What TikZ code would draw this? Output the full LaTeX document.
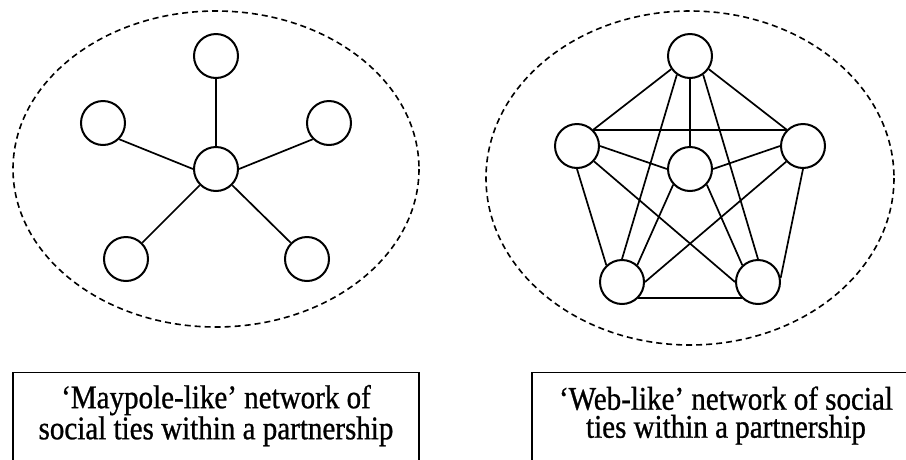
\documentclass[tikz,border=0pt]{standalone}
\usepackage{fontspec}
\setmainfont[FakeStretch=0.88, FakeBold=0.8]{Liberation Serif}
\tikzstyle{member_node} = [
    circle, 
    draw=black, 
    fill=white, 
    line width=2pt, 
    inner sep=0pt, 
    minimum size=44pt % one partner
]
\tikzstyle{tie} = [
    draw=black, 
    line width=1.7pt
]
\tikzstyle{boundary} = [
    draw=black, 
    line width=1.6pt, 
    dash pattern=on 6pt off 4pt
]
\tikzstyle{caption_box} = [
    rectangle, 
    draw=black, 
    line width=1.4pt, 
    anchor=north, 
    minimum height=120pt
]
\tikzstyle{caption_text} = [
    align=center, 
    inner sep=0pt, 
    font=\fontsize{33pt}{28pt}\selectfont
]

\begin{document}
\begin{tikzpicture}[x=1pt, y=-1pt]
\clip (0,0) rectangle (906,459);

% maypole-like network
\draw [boundary] (216,169) ellipse [x radius=203, y radius=158];
\node [member_node] (pole_hub)   at (216,169) {};
\node [member_node] (pole_top)   at (216,56)  {};
\node [member_node] (pole_left)  at (103,123) {};
\node [member_node] (pole_right) at (329,123) {};
\node [member_node] (pole_bl)    at (126,259) {};
\node [member_node] (pole_br)    at (307,259) {};
\draw [tie] (pole_top.south) -- (pole_hub.north);
\draw [tie] (pole_left.south east) -- (pole_hub.west);
\draw [tie] (pole_right.south west) -- (pole_hub.east);
\draw [tie] (pole_bl.45) -- (pole_hub.225);
\draw [tie] (pole_br.135) -- (pole_hub.315);

% web-like network
\draw [boundary] (690,178) ellipse [x radius=204, y radius=167];
\node [member_node] (web_top)   at (690,56)  {};
\node [member_node] (web_left)  at (577,146) {};
\node [member_node] (web_right) at (803,146) {};
\node [member_node] (web_hub)   at (690,169) {};
\node [member_node] (web_bl)    at (622,282) {};
\node [member_node] (web_br)    at (758,282) {};
\draw [tie] (web_top.south) -- (web_hub.north);
\draw [tie] (web_top.215) -- (web_left.45);
\draw [tie] (web_top.325) -- (web_right.135);
\draw [tie] (web_top.235) -- (web_bl.north);
\draw [tie] (web_top.305) -- (web_br.north);
\draw [tie] (web_left.45) -- (web_right.135);
\draw [tie] (web_left.east) -- (web_hub.west);
\draw [tie] (web_right.west) -- (web_hub.east);
\draw [tie] (web_left.south) -- (web_bl.133);
\draw [tie] (web_left.318) -- (web_br.west);
\draw [tie] (web_right.south) -- (web_br.10);
\draw [tie] (web_right.223) -- (web_bl.east);
\draw [tie] (web_hub.223) -- (web_bl.48);
\draw [tie] (web_hub.317) -- (web_br.133);
\draw [tie] (web_bl.315) -- (web_br.225);

% captions, cut off at the bottom
\node [caption_box, minimum width=406pt] (pole_box) at (216,372) {};
\node [caption_text] (pole_caption) at (216,415.6)
    {`Maypole-like' network of\\social ties within a partnership};
\node [caption_box, minimum width=388pt] (web_box) at (726,372) {};
\node [caption_text] (web_caption) at (726,415.6)
    {`Web-like' network of social\\ties within a partnership};
\end{tikzpicture}
\end{document}
